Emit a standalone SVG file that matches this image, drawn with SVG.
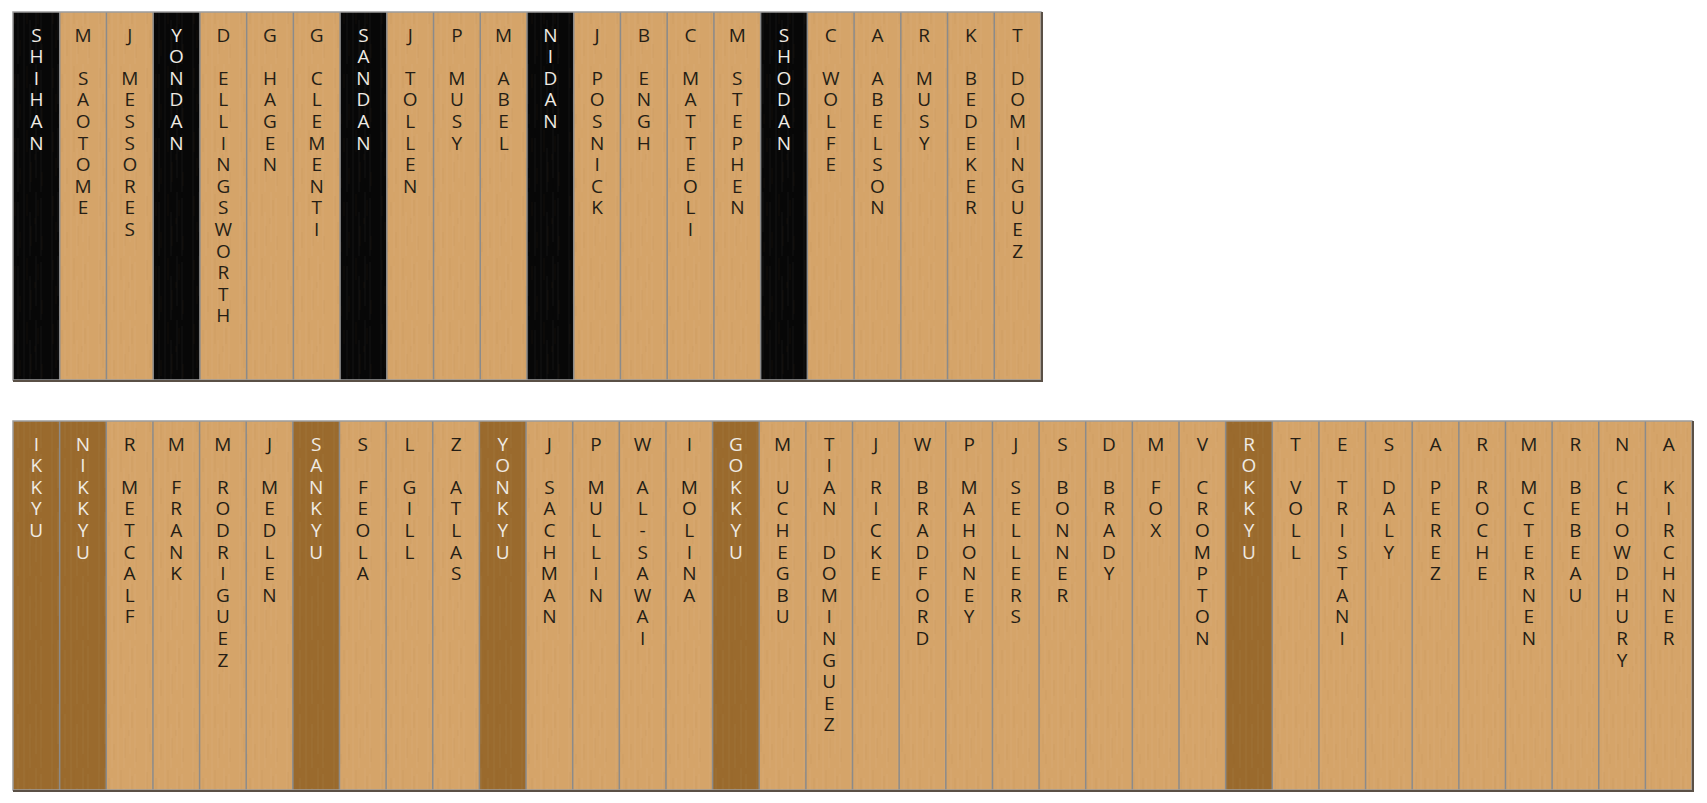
<svg xmlns="http://www.w3.org/2000/svg" width="1707" height="803" viewBox="0 0 1707 803">
<defs>
<pattern id="grain" x="0" y="0" width="47" height="64" patternUnits="userSpaceOnUse">
<path d="M6 4v20M9 30v18M15 10v14M20 40v16M27 2v22M31 34v20M38 8v16M42 44v14M12 50v10M35 26v6" stroke="#7a4f1e" stroke-width="0.8" stroke-opacity="0.10" fill="none"/>
</pattern>
<pattern id="grainLt" x="0" y="0" width="47" height="64" patternUnits="userSpaceOnUse">
<path d="M5 0v64M11 0v40M18 10v54M24 0v64M30 20v44M36 0v50M41 6v58" stroke="#ffffff" stroke-width="0.8" stroke-opacity="0.06" fill="none"/>
</pattern>
<style>
.wood{fill:#d5a469}
.brn{fill:#9a6a2d}
.blk{fill:#070707}
.sep{stroke:#8b8b8b;stroke-width:1.5}
.frame{fill:none;stroke:#9c9c9c;stroke-width:1.5}
.shadow{stroke:#5a5046;stroke-width:2;fill:none}
text{font-family:"Open Sans","DejaVu Sans",sans-serif;font-size:19px;writing-mode:vertical-rl;text-orientation:upright;letter-spacing:-4.4px;text-anchor:start}
.dk{fill:#231c14}
.lt{fill:#efebe4}
</style>
</defs>
<rect x="0" y="0" width="1707" height="803" fill="#ffffff"/>

<g id="panel-top">
<g id="t-shihan"><rect class="blk" x="13" y="12" width="46.73" height="368"/><text class="lt" x="36.4" y="21.7">SHIHAN</text></g>
<g id="t-saotome"><rect class="wood" x="59.73" y="12" width="46.73" height="368"/><text class="dk" x="83.1" y="21.7">M SAOTOME</text></g>
<g id="t-messores"><rect class="wood" x="106.45" y="12" width="46.73" height="368"/><text class="dk" x="129.8" y="21.7">J MESSORES</text></g>
<g id="t-yondan"><rect class="blk" x="153.18" y="12" width="46.73" height="368"/><text class="lt" x="176.5" y="21.7">YONDAN</text></g>
<g id="t-ellingsworth"><rect class="wood" x="199.91" y="12" width="46.73" height="368"/><text class="dk" x="223.3" y="21.7">D ELLINGSWORTH</text></g>
<g id="t-hagen"><rect class="wood" x="246.64" y="12" width="46.73" height="368"/><text class="dk" x="270" y="21.7">G HAGEN</text></g>
<g id="t-clementi"><rect class="wood" x="293.36" y="12" width="46.73" height="368"/><text class="dk" x="316.7" y="21.7">G CLEMENTI</text></g>
<g id="t-sandan"><rect class="blk" x="340.09" y="12" width="46.73" height="368"/><text class="lt" x="363.5" y="21.7">SANDAN</text></g>
<g id="t-tollen"><rect class="wood" x="386.82" y="12" width="46.73" height="368"/><text class="dk" x="410.2" y="21.7">J TOLLEN</text></g>
<g id="t-pmusy"><rect class="wood" x="433.55" y="12" width="46.73" height="368"/><text class="dk" x="456.9" y="21.7">P MUSY</text></g>
<g id="t-abel"><rect class="wood" x="480.27" y="12" width="46.73" height="368"/><text class="dk" x="503.6" y="21.7">M ABEL</text></g>
<g id="t-nidan"><rect class="blk" x="527" y="12" width="46.73" height="368"/><text class="lt" x="550.4" y="21.7">NIDAN</text></g>
<g id="t-posnick"><rect class="wood" x="573.73" y="12" width="46.73" height="368"/><text class="dk" x="597.1" y="21.7">J POSNICK</text></g>
<g id="t-engh"><rect class="wood" x="620.45" y="12" width="46.73" height="368"/><text class="dk" x="643.8" y="21.7">B ENGH</text></g>
<g id="t-matteoli"><rect class="wood" x="667.18" y="12" width="46.73" height="368"/><text class="dk" x="690.5" y="21.7">C MATTEOLI</text></g>
<g id="t-stephen"><rect class="wood" x="713.91" y="12" width="46.73" height="368"/><text class="dk" x="737.3" y="21.7">M STEPHEN</text></g>
<g id="t-shodan"><rect class="blk" x="760.64" y="12" width="46.73" height="368"/><text class="lt" x="784" y="21.7">SHODAN</text></g>
<g id="t-wolfe"><rect class="wood" x="807.36" y="12" width="46.73" height="368"/><text class="dk" x="830.7" y="21.7">C WOLFE</text></g>
<g id="t-abelson"><rect class="wood" x="854.09" y="12" width="46.73" height="368"/><text class="dk" x="877.5" y="21.7">A ABELSON</text></g>
<g id="t-rmusy"><rect class="wood" x="900.82" y="12" width="46.73" height="368"/><text class="dk" x="924.2" y="21.7">R MUSY</text></g>
<g id="t-bedeker"><rect class="wood" x="947.55" y="12" width="46.73" height="368"/><text class="dk" x="970.9" y="21.7">K BEDEKER</text></g>
<g id="t-tdominguez"><rect class="wood" x="994.27" y="12" width="46.73" height="368"/><text class="dk" x="1017.6" y="21.7">T DOMINGUEZ</text></g>
<rect x="13" y="12" width="1028" height="368" fill="url(#grain)"/>
<rect x="13" y="12" width="1028" height="368" fill="url(#grainLt)"/>
<path class="sep" d="M59.73 12V380M106.45 12V380M153.18 12V380M199.91 12V380M246.64 12V380M293.36 12V380M340.09 12V380M386.82 12V380M433.55 12V380M480.27 12V380M527 12V380M573.73 12V380M620.45 12V380M667.18 12V380M713.91 12V380M760.64 12V380M807.36 12V380M854.09 12V380M900.82 12V380M947.55 12V380M994.27 12V380"/>
<rect class="frame" x="13" y="12" width="1028" height="368"/>
<path class="shadow" d="M13 381H1042V12"/>
</g>

<g id="panel-bottom">
<g id="b-ikkyu"><rect class="brn" x="13" y="421" width="46.64" height="369"/><text class="lt" x="36.3" y="430.7">IKKYU</text></g>
<g id="b-nikkyu"><rect class="brn" x="59.64" y="421" width="46.64" height="369"/><text class="lt" x="83" y="430.7">NIKKYU</text></g>
<g id="b-metcalf"><rect class="wood" x="106.28" y="421" width="46.64" height="369"/><text class="dk" x="129.6" y="430.7">R METCALF</text></g>
<g id="b-frank"><rect class="wood" x="152.92" y="421" width="46.64" height="369"/><text class="dk" x="176.2" y="430.7">M FRANK</text></g>
<g id="b-rodriguez"><rect class="wood" x="199.56" y="421" width="46.64" height="369"/><text class="dk" x="222.9" y="430.7">M RODRIGUEZ</text></g>
<g id="b-medlen"><rect class="wood" x="246.2" y="421" width="46.64" height="369"/><text class="dk" x="269.5" y="430.7">J MEDLEN</text></g>
<g id="b-sankyu"><rect class="brn" x="292.84" y="421" width="46.64" height="369"/><text class="lt" x="316.2" y="430.7">SANKYU</text></g>
<g id="b-feola"><rect class="wood" x="339.48" y="421" width="46.64" height="369"/><text class="dk" x="362.8" y="430.7">S FEOLA</text></g>
<g id="b-gill"><rect class="wood" x="386.12" y="421" width="46.64" height="369"/><text class="dk" x="409.4" y="430.7">L GILL</text></g>
<g id="b-atlas"><rect class="wood" x="432.76" y="421" width="46.64" height="369"/><text class="dk" x="456.1" y="430.7">Z ATLAS</text></g>
<g id="b-yonkyu"><rect class="brn" x="479.4" y="421" width="46.64" height="369"/><text class="lt" x="502.7" y="430.7">YONKYU</text></g>
<g id="b-sachman"><rect class="wood" x="526.04" y="421" width="46.64" height="369"/><text class="dk" x="549.4" y="430.7">J SACHMAN</text></g>
<g id="b-mullin"><rect class="wood" x="572.68" y="421" width="46.64" height="369"/><text class="dk" x="596" y="430.7">P MULLIN</text></g>
<g id="b-alsawai"><rect class="wood" x="619.32" y="421" width="46.64" height="369"/><text class="dk" x="642.6" y="430.7">W AL-SAWAI</text></g>
<g id="b-molina"><rect class="wood" x="665.96" y="421" width="46.64" height="369"/><text class="dk" x="689.3" y="430.7">I MOLINA</text></g>
<g id="b-gokkyu"><rect class="brn" x="712.6" y="421" width="46.64" height="369"/><text class="lt" x="735.9" y="430.7">GOKKYU</text></g>
<g id="b-uchegbu"><rect class="wood" x="759.24" y="421" width="46.64" height="369"/><text class="dk" x="782.6" y="430.7">M UCHEGBU</text></g>
<g id="b-tiandominguez"><rect class="wood" x="805.88" y="421" width="46.64" height="369"/><text class="dk" x="829.2" y="430.7">TIAN DOMINGUEZ</text></g>
<g id="b-ricke"><rect class="wood" x="852.52" y="421" width="46.64" height="369"/><text class="dk" x="875.8" y="430.7">J RICKE</text></g>
<g id="b-bradford"><rect class="wood" x="899.16" y="421" width="46.64" height="369"/><text class="dk" x="922.5" y="430.7">W BRADFORD</text></g>
<g id="b-mahoney"><rect class="wood" x="945.8" y="421" width="46.64" height="369"/><text class="dk" x="969.1" y="430.7">P MAHONEY</text></g>
<g id="b-sellers"><rect class="wood" x="992.44" y="421" width="46.64" height="369"/><text class="dk" x="1015.8" y="430.7">J SELLERS</text></g>
<g id="b-bonner"><rect class="wood" x="1039.08" y="421" width="46.64" height="369"/><text class="dk" x="1062.4" y="430.7">S BONNER</text></g>
<g id="b-brady"><rect class="wood" x="1085.72" y="421" width="46.64" height="369"/><text class="dk" x="1109" y="430.7">D BRADY</text></g>
<g id="b-fox"><rect class="wood" x="1132.36" y="421" width="46.64" height="369"/><text class="dk" x="1155.7" y="430.7">M FOX</text></g>
<g id="b-crompton"><rect class="wood" x="1179" y="421" width="46.64" height="369"/><text class="dk" x="1202.3" y="430.7">V CROMPTON</text></g>
<g id="b-rokkyu"><rect class="brn" x="1225.64" y="421" width="46.64" height="369"/><text class="lt" x="1249" y="430.7">ROKKYU</text></g>
<g id="b-voll"><rect class="wood" x="1272.28" y="421" width="46.64" height="369"/><text class="dk" x="1295.6" y="430.7">T VOLL</text></g>
<g id="b-tristani"><rect class="wood" x="1318.92" y="421" width="46.64" height="369"/><text class="dk" x="1342.2" y="430.7">E TRISTANI</text></g>
<g id="b-daly"><rect class="wood" x="1365.56" y="421" width="46.64" height="369"/><text class="dk" x="1388.9" y="430.7">S DALY</text></g>
<g id="b-perez"><rect class="wood" x="1412.2" y="421" width="46.64" height="369"/><text class="dk" x="1435.5" y="430.7">A PEREZ</text></g>
<g id="b-roche"><rect class="wood" x="1458.84" y="421" width="46.64" height="369"/><text class="dk" x="1482.2" y="430.7">R ROCHE</text></g>
<g id="b-mcternen"><rect class="wood" x="1505.48" y="421" width="46.64" height="369"/><text class="dk" x="1528.8" y="430.7">M MCTERNEN</text></g>
<g id="b-bebeau"><rect class="wood" x="1552.12" y="421" width="46.64" height="369"/><text class="dk" x="1575.4" y="430.7">R BEBEAU</text></g>
<g id="b-chowdhury"><rect class="wood" x="1598.76" y="421" width="46.64" height="369"/><text class="dk" x="1622.1" y="430.7">N CHOWDHURY</text></g>
<g id="b-kirchner"><rect class="wood" x="1645.4" y="421" width="46.64" height="369"/><text class="dk" x="1668.7" y="430.7">A KIRCHNER</text></g>
<rect x="13" y="421" width="1679" height="369" fill="url(#grain)"/>
<rect x="13" y="421" width="1679" height="369" fill="url(#grainLt)"/>
<path class="sep" d="M59.64 421V790M106.28 421V790M152.92 421V790M199.56 421V790M246.2 421V790M292.84 421V790M339.48 421V790M386.12 421V790M432.76 421V790M479.4 421V790M526.04 421V790M572.68 421V790M619.32 421V790M665.96 421V790M712.6 421V790M759.24 421V790M805.88 421V790M852.52 421V790M899.16 421V790M945.8 421V790M992.44 421V790M1039.08 421V790M1085.72 421V790M1132.36 421V790M1179 421V790M1225.64 421V790M1272.28 421V790M1318.92 421V790M1365.56 421V790M1412.2 421V790M1458.84 421V790M1505.48 421V790M1552.12 421V790M1598.76 421V790M1645.4 421V790"/>
<rect class="frame" x="13" y="421" width="1679" height="369"/>
<path class="shadow" d="M13 791H1693V421"/>
</g>
</svg>
